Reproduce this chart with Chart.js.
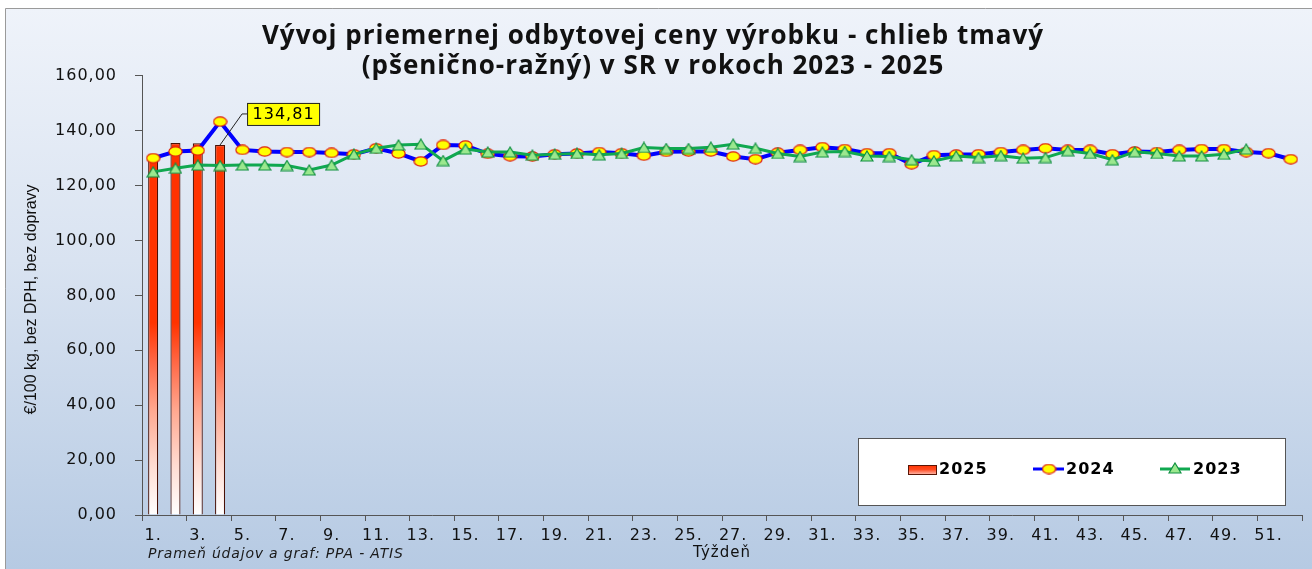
<!DOCTYPE html>
<html>
<head>
  <meta charset="utf-8">
  <script src="https://cdn.jsdelivr.net/npm/chart.js"></script>
  <title>Chlieb tmavý - odbytové ceny</title>
  <style>
    html, body { margin: 0; padding: 0; background: #fff; }
    #wrap { width: 1312px; height: 569px; }
  </style>
</head>
<body>
  <div id="wrap"><canvas id="priceChart" width="1312" height="569"></canvas></div>

  <script>
    // week labels 1. .. 52.
    const weeks = [];
    for (let w = 1; w <= 52; w++) weeks.push(w + '.');

    // €/100 kg
    const price2025 = [131.3, 135.5, 135.4, 134.81];
    const price2024 = [130.0, 132.4, 132.8, 143.3, 133.0, 132.4, 132.2, 132.2, 131.9, 131.4,
                       133.6, 131.7, 128.8, 134.8, 134.6, 131.6, 130.7, 130.6, 131.4, 131.7,
                       132.2, 131.8, 130.9, 132.3, 132.4, 132.4, 130.6, 129.6, 132.0, 133.0,
                       134.0, 133.3, 131.8, 131.8, 127.8, 131.1, 131.3, 131.4, 132.2, 133.0,
                       133.6, 133.0, 133.0, 131.4, 132.4, 132.2, 133.0, 133.3, 133.3, 132.2,
                       131.8, 129.6];
    const price2023 = [125.0, 126.3, 127.5, 127.3, 127.5, 127.5, 127.3, 125.7, 127.5, 131.4,
                       133.6, 134.8, 135.1, 129.1, 133.3, 132.2, 132.2, 131.1, 131.4, 131.7,
                       131.2, 131.7, 133.9, 133.5, 133.5, 134.0, 135.1, 133.6, 131.7, 130.6,
                       132.2, 132.4, 130.8, 130.6, 129.4, 129.0, 130.8, 130.2, 130.9, 130.0,
                       130.2, 132.7, 131.7, 129.4, 132.3, 131.7, 130.8, 130.8, 131.4, 133.3,
                       null, null];

    const titleLines = ['Vývoj priemernej odbytovej ceny výrobku - chlieb tmavý',
                        '(pšenično-ražný) v SR v rokoch 2023 - 2025'];
    const yTitle = '€/100 kg, bez DPH, bez dopravy';
    const xTitle = 'Týždeň';
    const sourceNote = 'Prameň údajov a graf: PPA - ATIS';

    const fmt = v => v.toFixed(2).replace('.', ',');

    // excel-like markers
    function ellipseMarker() {
      const c = document.createElement('canvas');
      c.width = 15; c.height = 11;
      const g = c.getContext('2d');
      g.beginPath();
      g.ellipse(7.5, 5.5, 6.6, 4.7, 0, 0, Math.PI * 2);
      g.fillStyle = '#FFFF00';
      g.fill();
      g.lineWidth = 1.2;
      g.strokeStyle = '#E02010';
      g.stroke();
      return c;
    }
    function triangleMarker() {
      const c = document.createElement('canvas');
      c.width = 14; c.height = 12;
      const g = c.getContext('2d');
      g.beginPath();
      g.moveTo(7, 1);
      g.lineTo(13, 11);
      g.lineTo(1, 11);
      g.closePath();
      g.fillStyle = '#9BE88E';
      g.fill();
      g.lineWidth = 1.2;
      g.strokeStyle = '#109040';
      g.stroke();
      return c;
    }
    const dot = ellipseMarker();
    const tri = triangleMarker();

    function barFill(context) {
      const chart = context.chart;
      const y = chart.scales.y;
      if (!chart.chartArea || !y) return '#FF3300';
      const top = y.getPixelForValue(160), bottom = y.getPixelForValue(0);
      const g = chart.ctx.createLinearGradient(0, top, 0, bottom);
      const at = v => (160 - v) / 160;
      g.addColorStop(0, '#FF3300');
      g.addColorStop(at(70), '#FF3300');
      g.addColorStop(at(55), '#FF6A48');
      g.addColorStop(at(38), '#FFA890');
      g.addColorStop(at(18), '#FFDCD2');
      g.addColorStop(1, '#FFFFFF');
      return g;
    }

    // background + frame
    const backdrop = {
      id: 'backdrop',
      beforeDraw(chart) {
        const ctx = chart.ctx;
        ctx.save();
        ctx.fillStyle = '#fff';
        ctx.fillRect(0, 0, chart.width, chart.height);
        const g = ctx.createLinearGradient(0, 8, 0, chart.height);
        g.addColorStop(0, '#EFF3FA');
        g.addColorStop(0.45, '#D9E3F1');
        g.addColorStop(1, '#B6CAE3');
        ctx.fillStyle = g;
        ctx.fillRect(5, 8, chart.width - 5, chart.height - 8);
        ctx.strokeStyle = '#9a9a9a';
        ctx.lineWidth = 1;
        ctx.beginPath();
        ctx.moveTo(5.5, chart.height);
        ctx.lineTo(5.5, 8.5);
        ctx.lineTo(chart.width, 8.5);
        ctx.stroke();
        ctx.restore();
        ctx.letterSpacing = '1px';
      }
    };

    // y title (narrow), data label, legend box, source note
    const extras = {
      id: 'extras',
      afterDraw(chart) {
        const ctx = chart.ctx;
        const area = chart.chartArea;
        ctx.save();

        // y axis title, squeezed like a narrow font
        ctx.save();
        ctx.letterSpacing = '0px';
        ctx.font = '17px "Liberation Sans"';
        const tw = ctx.measureText(yTitle).width;
        ctx.translate(31, (area.top + area.bottom) / 2 + 4);
        ctx.rotate(-Math.PI / 2);
        ctx.scale(230 / tw, 1);
        ctx.fillStyle = '#111';
        ctx.textAlign = 'center';
        ctx.textBaseline = 'middle';
        ctx.fillText(yTitle, 0, 0);
        ctx.restore();

        ctx.letterSpacing = '1px';

        // label of the last 2025 bar
        const bars = chart.getDatasetMeta(2).data;
        const last = bars[bars.length - 1];
        if (last) {
          const bx = last.x, by = last.y;
          ctx.strokeStyle = '#222';
          ctx.lineWidth = 1;
          ctx.beginPath();
          ctx.moveTo(bx, by);
          ctx.lineTo(bx + 22, by - 31);
          ctx.lineTo(bx + 27, by - 31);
          ctx.stroke();
          ctx.fillStyle = '#FFFF00';
          ctx.fillRect(bx + 27, by - 42, 72, 22);
          ctx.strokeRect(bx + 27.5, by - 41.5, 72, 22);
          ctx.fillStyle = '#000';
          ctx.font = '16px "DejaVu Sans"';
          ctx.textAlign = 'center';
          ctx.textBaseline = 'middle';
          ctx.fillText(fmt(price2025[price2025.length - 1]), bx + 63.5, by - 30.5);
        }

        // legend
        const lx = 858, ly = 438, lw = 427, lh = 67;
        ctx.fillStyle = '#fff';
        ctx.fillRect(lx, ly, lw, lh);
        ctx.strokeStyle = '#555';
        ctx.strokeRect(lx + 0.5, ly + 0.5, lw, lh);
        const cy = ly + 31;
        ctx.font = 'bold 16px "DejaVu Sans"';
        ctx.textAlign = 'left';
        ctx.textBaseline = 'middle';

        const sw = ctx.createLinearGradient(0, cy - 4, 0, cy + 5);
        sw.addColorStop(0, '#FF3300');
        sw.addColorStop(0.5, '#FF4A20');
        sw.addColorStop(1, '#FFB0A0');
        ctx.fillStyle = sw;
        ctx.fillRect(lx + 50, cy - 4, 28, 9);
        ctx.strokeStyle = '#5a1505';
        ctx.strokeRect(lx + 50.5, cy - 3.5, 28, 9);
        ctx.fillStyle = '#000';
        ctx.fillText('2025', lx + 81, cy + 1);

        ctx.strokeStyle = '#0000FF';
        ctx.lineWidth = 3;
        ctx.beginPath(); ctx.moveTo(lx + 175, cy); ctx.lineTo(lx + 206, cy); ctx.stroke();
        ctx.drawImage(dot, lx + 191 - 7.5, cy - 5.5);
        ctx.fillText('2024', lx + 208, cy + 1);

        ctx.strokeStyle = '#10A850';
        ctx.beginPath(); ctx.moveTo(lx + 302, cy); ctx.lineTo(lx + 332, cy); ctx.stroke();
        ctx.drawImage(tri, lx + 317 - 7, cy - 7);
        ctx.fillText('2023', lx + 335, cy + 1);

        // source
        ctx.letterSpacing = '0.8px';
        ctx.font = 'italic 14px "DejaVu Sans"';
        ctx.fillStyle = '#1a1a1a';
        ctx.fillText(sourceNote, 148, 554);
        ctx.restore();
      }
    };

    const ctx = document.getElementById('priceChart').getContext('2d');
    const chart = new Chart(ctx, {
      type: 'bar',
      data: {
        labels: weeks,
        datasets: [{
          type: 'line',
          label: '2023',
          data: price2023,
          order: 0,
          borderColor: '#10A850',
          borderWidth: 3,
          pointStyle: tri,
          pointRadius: 6,
          tension: 0,
          spanGaps: false
        }, {
          type: 'line',
          label: '2024',
          data: price2024,
          order: 1,
          borderColor: '#0000FF',
          borderWidth: 4,
          pointStyle: dot,
          pointRadius: 6,
          tension: 0
        }, {
          label: '2025',
          data: price2025,
          order: 2,
          backgroundColor: barFill,
          borderColor: '#4a1005',
          borderWidth: 1.2,
          barPercentage: 0.45,
          categoryPercentage: 1
        }]
      },
      options: {
        responsive: false,
        animation: false,
        layout: { padding: { left: 0, right: 6, top: 0, bottom: 0 } },
        plugins: {
          legend: { display: false },
          tooltip: { enabled: false },
          title: {
            display: true,
            text: titleLines,
            color: '#111',
            font: { family: '"Open Sans"', size: 26, weight: 'bold', lineHeight: 1.15 },
            padding: { top: 22, bottom: -6 }
          }
        },
        scales: {
          x: {
            offset: true,
            grid: {
              offset: true,
              drawOnChartArea: false,
              tickLength: 6,
              color: c => (c.index === undefined || c.index % 2 === 0) ? '#555' : 'rgba(0,0,0,0)'
            },
            border: { color: '#555', width: 1 },
            ticks: {
              autoSkip: false,
              maxRotation: 0,
              padding: 5,
              color: '#111',
              font: { family: '"DejaVu Sans"', size: 16 },
              callback: function (value, index) {
                return index % 2 === 0 ? this.getLabelForValue(value) : '';
              }
            },
            title: {
              display: true,
              text: xTitle,
              color: '#111',
              font: { family: '"DejaVu Sans"', size: 15 },
              padding: { top: 0, bottom: 7 }
            },
            afterFit: s => { s.height = 54; }
          },
          y: {
            min: 0,
            max: 160,
            grid: { drawOnChartArea: false, tickLength: 7, color: '#555' },
            border: { color: '#555', width: 1 },
            ticks: {
              stepSize: 20,
              padding: 18,
              color: '#111',
              font: { family: '"DejaVu Sans"', size: 16 },
              callback: v => fmt(v)
            },
            title: { display: false },
            afterFit: s => { s.width = 142; }
          }
        }
      },
      plugins: [backdrop, extras]
    });
  </script>
</body>
</html>
